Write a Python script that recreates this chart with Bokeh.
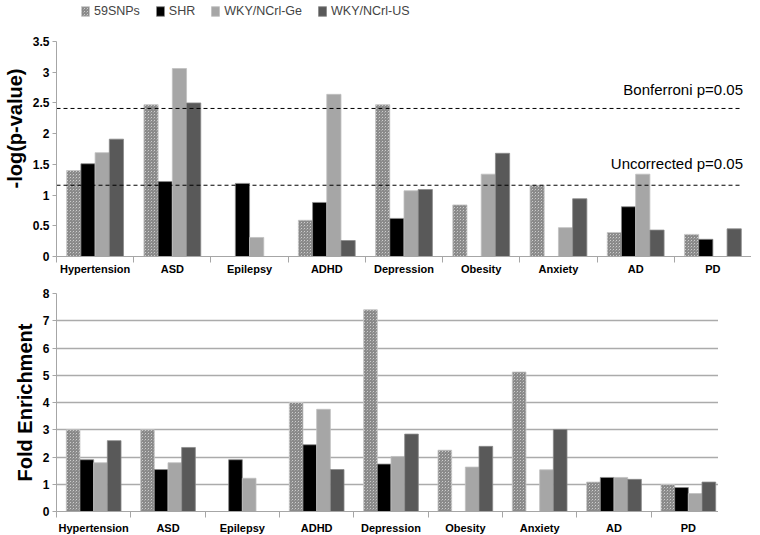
from bokeh.plotting import figure
from bokeh.models import (Range1d, FixedTicker, LinearAxis, Legend, LegendItem,
                          Label, ColumnDataSource, Grid)
from bokeh.transform import dodge
from bokeh.layouts import column
from bokeh.embed import file_html
from bokeh.resources import INLINE

categories = ["Hypertension", "ASD", "Epilepsy", "ADHD", "Depression",
              "Obesity", "Anxiety", "AD", "PD"]
series = ["59SNPs", "SHR", "WKY/NCrl-Ge", "WKY/NCrl-US"]

# -log(p-value)
pval_59snps = [1.40, 2.47, 0.0, 0.59, 2.47, 0.84, 1.16, 0.39, 0.36]
pval_shr = [1.51, 1.22, 1.19, 0.88, 0.62, 0.0, 0.0, 0.81, 0.28]
pval_ge = [1.69, 3.06, 0.31, 2.64, 1.07, 1.34, 0.47, 1.34, 0.0]
pval_us = [1.91, 2.50, 0.0, 0.26, 1.09, 1.68, 0.94, 0.43, 0.45]

# Fold enrichment
fold_59snps = [3.0, 3.0, 0.0, 4.0, 7.4, 2.25, 5.12, 1.08, 0.99]
fold_shr = [1.90, 1.54, 1.90, 2.45, 1.74, 0.0, 0.0, 1.25, 0.88]
fold_ge = [1.79, 1.79, 1.22, 3.75, 2.02, 1.63, 1.53, 1.25, 0.66]
fold_us = [2.60, 2.35, 0.0, 1.54, 2.84, 2.39, 3.01, 1.18, 1.08]

bonferroni = 2.41
uncorrected = 1.16
bonferroni_label = "Bonferroni p=0.05"
uncorrected_label = "Uncorrected p=0.05"

pval_ticks = [0, 0.5, 1, 1.5, 2, 2.5, 3, 3.5]
pval_tick_labels = ["0", "0.5", "1", "1.5", "2", "2.5", "3", "3.5"]
fold_ticks = [0, 1, 2, 3, 4, 5, 6, 7, 8]
fold_tick_labels = ["0", "1", "2", "3", "4", "5", "6", "7", "8"]

FONT = "Liberation Sans"
AXIS_GRAY = "#a6a6a6"

styles = [
    dict(fill_color="#d8d8d8", hatch_pattern="criss_cross", hatch_color="#8a8a8a",
         hatch_scale=3, hatch_weight=1.3, line_color="#c8c8c8", line_width=0.8),
    dict(fill_color="#000000", line_color="#8a8a8a", line_width=0.8),
    dict(fill_color="#a6a6a6", line_color="#c0c0c0", line_width=0.8),
    dict(fill_color="#595959", line_color="#8a8a8a", line_width=0.8),
]
offsets = [-0.276, -0.092, 0.092, 0.276]
bar_w = 0.184

centers = [i + 0.5 for i in range(len(categories))]
bounds = [i for i in range(len(categories) + 1)]


def make_fig(frame_w, frame_h, y_max, y_view_max, ticks, tick_labels, ylabel,
             values, top_border, label_standoff, grid):
    src = ColumnDataSource(dict(x=centers, cat=categories,
                                s0=values[0], s1=values[1],
                                s2=values[2], s3=values[3]))
    p = figure(frame_width=frame_w, frame_height=frame_h,
               x_range=Range1d(0, len(categories)),
               y_range=Range1d(0, y_view_max), output_backend="svg",
               toolbar_location=None, x_axis_type=None, y_axis_type=None,
               min_border_left=49, min_border_right=0,
               min_border_top=top_border, min_border_bottom=24)
    p.outline_line_color = None
    p.background_fill_color = "white"

    yaxis = LinearAxis(ticker=FixedTicker(ticks=ticks, minor_ticks=[]),
                       major_label_overrides={t: l for t, l in zip(ticks, tick_labels)},
                       bounds=(0, y_max))
    yaxis.axis_label = ylabel
    yaxis.axis_label_text_font = FONT
    yaxis.axis_label_text_font_size = "20px"
    yaxis.axis_label_text_font_style = "bold"
    yaxis.axis_label_text_color = "black"
    yaxis.axis_label_standoff = 4
    yaxis.major_label_text_font = FONT
    yaxis.major_label_text_font_size = "12px"
    yaxis.major_label_text_font_style = "bold"
    yaxis.major_label_text_color = "black"
    yaxis.major_label_standoff = 3
    yaxis.axis_line_color = AXIS_GRAY
    yaxis.major_tick_line_color = AXIS_GRAY
    yaxis.major_tick_out = 4
    yaxis.major_tick_in = 0
    yaxis.minor_tick_line_color = None
    p.add_layout(yaxis, "left")

    if grid:
        g = Grid(dimension=1, ticker=yaxis.ticker, grid_line_color="#ababab",
                 grid_line_width=1.6)
        p.add_layout(g)

    xaxis = LinearAxis(ticker=FixedTicker(ticks=centers, minor_ticks=bounds),
                       major_label_overrides={c: n for c, n in zip(centers, categories)})
    xaxis.major_label_text_font = FONT
    xaxis.major_label_text_font_size = "11px"
    xaxis.major_label_text_font_style = "bold"
    xaxis.major_label_text_color = "black"
    xaxis.major_label_standoff = label_standoff
    xaxis.axis_line_color = AXIS_GRAY
    xaxis.major_tick_line_color = None
    xaxis.major_tick_out = 0
    xaxis.major_tick_in = 0
    xaxis.minor_tick_line_color = AXIS_GRAY
    xaxis.minor_tick_out = 6
    xaxis.minor_tick_in = 0
    p.add_layout(xaxis, "below")

    rends = []
    for k in range(4):
        r = p.vbar(x=dodge("x", offsets[k]), top="s%d" % k, bottom=0,
                   width=bar_w, source=src, **styles[k])
        rends.append(r)
    return p, rends


# top panel: frame extends up to the figure top so the legend fits inside it
top_frame_h = 256
top_plot_h = 215
top_y_max = 3.5
top_view_max = top_y_max * top_frame_h / top_plot_h

p1, r1 = make_fig(695, top_frame_h, top_y_max, top_view_max, pval_ticks,
                  pval_tick_labels, "-log(p-value)",
                  [pval_59snps, pval_shr, pval_ge, pval_us], 0, 0, False)

x_end = len(categories) - 0.15
for thr, txt, yoff in [(bonferroni, bonferroni_label, 10),
                       (uncorrected, uncorrected_label, 13)]:
    p1.segment(x0=0, y0=thr, x1=x_end, y1=thr, line_color="black",
               line_width=1, line_dash="4 3")
    p1.add_layout(Label(x=len(categories) - 0.11, y=thr, text=txt,
                        text_align="right", y_offset=yoff, text_font=FONT,
                        text_font_size="15px", text_color="black"))

legend = Legend(items=[LegendItem(label=s, renderers=[r]) for s, r in zip(series, r1)],
                orientation="horizontal", location=(24, top_frame_h - 18),
                border_line_color=None, background_fill_alpha=0,
                padding=0, margin=0, spacing=15, glyph_width=10,
                glyph_height=12, label_standoff=4,
                label_text_font=FONT,
                label_text_font_size="12.5px", label_height=14)
p1.add_layout(legend)

p2, r2 = make_fig(669, 218, 8, 8, fold_ticks, fold_tick_labels, "Fold Enrichment",
                  [fold_59snps, fold_shr, fold_ge, fold_us], 13, 4, True)

layout = column(p1, p2, spacing=0)
open("out.html", "w").write(file_html(layout, INLINE))
